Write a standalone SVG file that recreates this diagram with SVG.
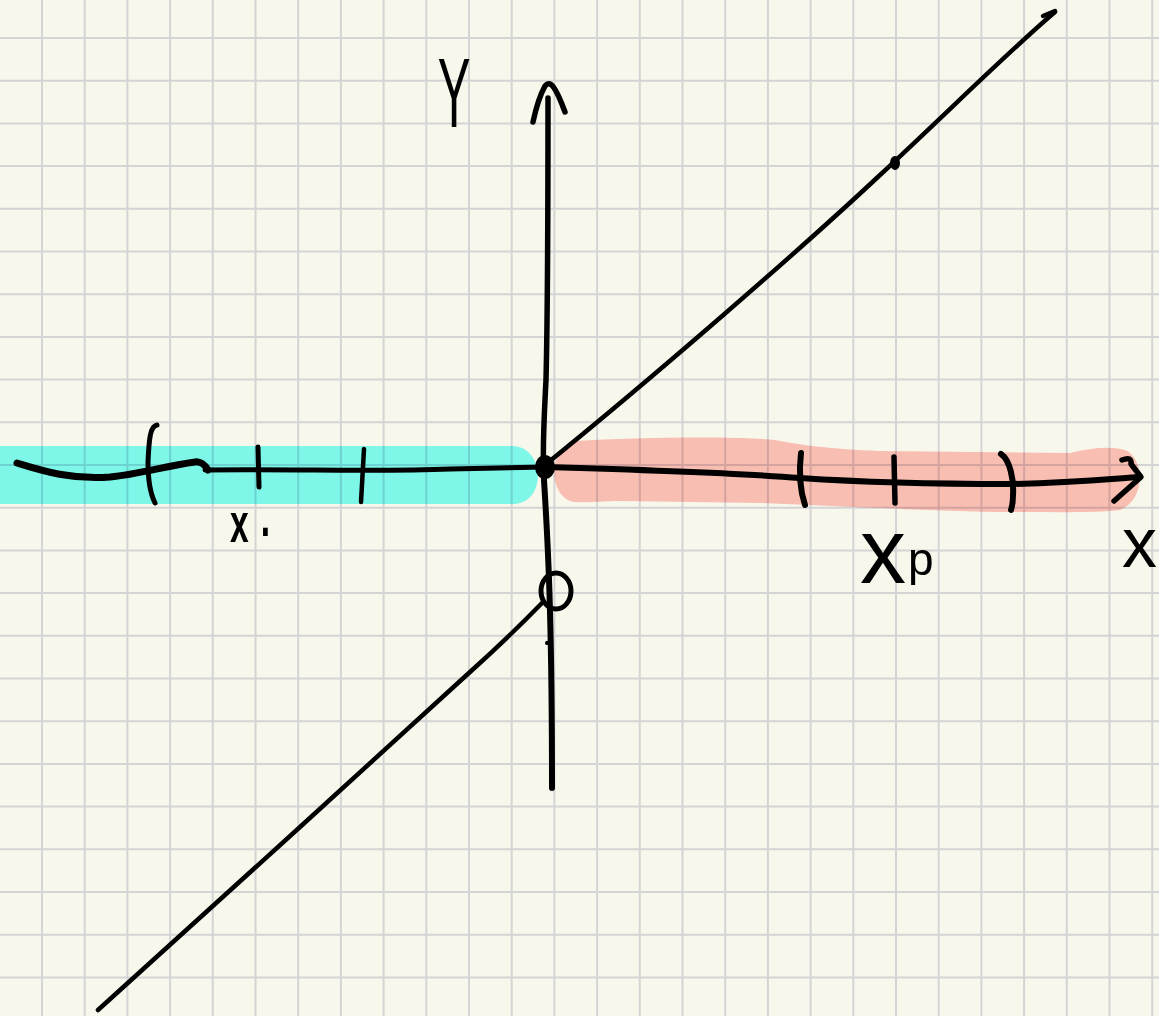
<svg xmlns="http://www.w3.org/2000/svg" width="1159" height="1016" viewBox="0 0 1159 1016">
<style>
.g{stroke:#d4d4d4;stroke-width:2;fill:none}
.ink{stroke:#000;fill:none;stroke-linecap:round;stroke-linejoin:round}
.hl{mix-blend-mode:multiply;stroke:none}
.lbl{font-family:"Liberation Sans","DejaVu Sans",sans-serif;fill:#000}
</style>
<rect width="1159" height="1016" fill="#f8f7ec"/>
<g id="grid" class="g">
<path d="M42 0V1016M84.7 0V1016M127.4 0V1016M170.1 0V1016M212.8 0V1016M255.5 0V1016M298.2 0V1016M340.9 0V1016M383.6 0V1016M426.3 0V1016M469 0V1016M511.7 0V1016M554.4 0V1016M597.1 0V1016M639.8 0V1016M682.5 0V1016M725.2 0V1016M767.9 0V1016M810.6 0V1016M853.3 0V1016M896 0V1016M938.7 0V1016M981.4 0V1016M1024.1 0V1016M1066.8 0V1016M1109.5 0V1016M1152.2 0V1016"/>
<path d="M0 38H1159M0 80.7H1159M0 123.4H1159M0 166.1H1159M0 208.8H1159M0 251.5H1159M0 294.2H1159M0 336.9H1159M0 379.6H1159M0 422.3H1159M0 465H1159M0 507.7H1159M0 550.4H1159M0 593.1H1159M0 635.8H1159M0 678.5H1159M0 721.2H1159M0 763.9H1159M0 806.6H1159M0 849.3H1159M0 892H1159M0 934.7H1159M0 977.4H1159"/>
</g>
<g id="highlights">
<path id="cyan-band" class="hl" fill="#82fefb" d="M-5 446H512C545 446 548 504 512 504H-5Z"/>
<path id="salmon-band" class="hl" fill="#ffc4c0" d="M575 441C640 437 740 436 775 440C800 445 830 449 880 451L1070 453C1090 448 1110 446 1125 450C1145 458 1146 500 1120 510C1100 513 1050 512 1000 512C900 510 820 505 760 503L620 501C600 501 590 503 575 502C550 500 545 450 575 441Z"/>
</g>
<g id="connectors">
<path id="y-axis-upper" class="ink" stroke-width="5.5" d="M548 98C548 200 548 300 546 380C544 420 542 450 544 480"/>
<path id="y-axis-lower" class="ink" stroke-width="6" d="M544 480C547 530 552 600 552 788"/>
<path id="y-arrow" class="ink" stroke-width="5.5" d="M533 122C536 108 540 95 545 86C550 80 555 85 565 112"/>
<path id="x-axis-left-wave" class="ink" stroke-width="7" d="M17 463C40 470 70 480 110 477C140 474 165 466 195 462C200 461 205 465 208 470"/>
<path id="x-axis-left" class="ink" stroke-width="5" d="M205 470C300 469 380 472 450 469L545 467"/>
<path id="x-axis-right" class="ink" stroke-width="6" d="M545 467C650 470 750 474 800 478C860 482 950 484 1010 484C1070 483 1110 479 1140 477"/>
<path id="x-arrow" class="ink" stroke-width="5.5" d="M1122 460Q1132 456 1131 464L1141 477L1114 501"/>
<path id="line-upper" class="ink" stroke-width="4.5" d="M545 465C650 380 800 250 880 175C950 110 1010 50 1055 12"/>
<path id="line-upper-hook" class="ink" stroke-width="4.5" d="M1043 16L1055 11"/>
<path id="line-lower" class="ink" stroke-width="4.5" d="M98 1010L300 827L470 672Q510 636 542 603"/>
</g>
<g id="marks">
<path id="bracket-left" class="ink" stroke-width="5" d="M157 425C150 426 149 440 148 462C148 482 151 495 155 503"/>
<path id="tick-1" class="ink" stroke-width="5" d="M258 447L259 487"/>
<path id="tick-2" class="ink" stroke-width="4.5" d="M364 449L361 502"/>
<path id="bracket-right-open" class="ink" stroke-width="6" d="M801 453C799 470 800 490 805 505"/>
<path id="tick-3" class="ink" stroke-width="5.5" d="M894 457L895 503"/>
<path id="bracket-right" class="ink" stroke-width="6" d="M1001 454C1010 460 1014 480 1013 495C1013 502 1012 507 1011 510"/>
<ellipse id="origin-dot" cx="545" cy="467" rx="10" ry="12" fill="#000"/>
<ellipse id="point-dot" cx="895" cy="163" rx="5" ry="7" fill="#000"/>
<ellipse id="open-circle" class="ink" stroke-width="5" cx="556" cy="591" rx="15" ry="18"/>
<path id="small-mark" class="ink" stroke-width="4" d="M547 643L551 642"/>
</g>
<g id="labels">
<text id="label-y" class="lbl" font-size="98" text-anchor="middle" transform="translate(454 127) scale(0.5 1)">Y</text>
<text id="label-x0" class="lbl" font-size="56" font-weight="bold" transform="translate(230 542) scale(0.6 1)">x<tspan dx="20" dy="-6">.</tspan></text>
<text id="label-xp" class="lbl" font-size="92" x="860" y="583">x<tspan x="908" y="575" font-size="46">p</tspan></text>
<text id="label-x" class="lbl" font-size="70" x="1122" y="567">x</text>
</g>
</svg>
